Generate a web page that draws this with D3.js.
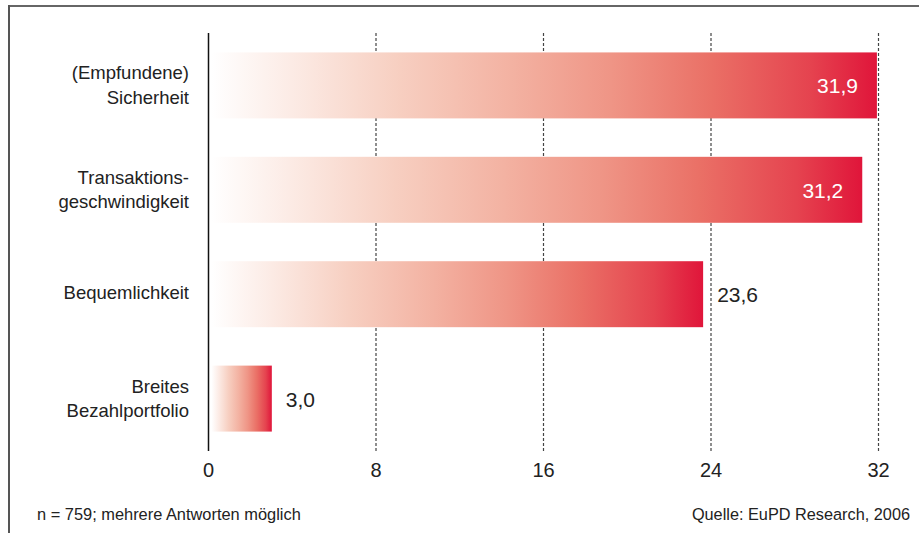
<!DOCTYPE html>
<html><head><meta charset="utf-8">
<script src="https://cdn.jsdelivr.net/npm/d3@7"></script>
<style>
html,body{margin:0;padding:0;background:#fff;}
svg{display:block;}
</style></head>
<body>
<svg id="chart" width="919" height="533"></svg>
<script>
const categories = [["(Empfundene)", "Sicherheit"], ["Transaktions-", "geschwindigkeit"], ["Bequemlichkeit"], ["Breites", "Bezahlportfolio"]];
const values = [31.9, 31.2, 23.6, 3.0];
const valueLabels = ["31,9", "31,2", "23,6", "3,0"];
const tickValues = [0, 8, 16, 24, 32];
const footLeft = "n = 759; mehrere Antworten möglich";
const footRight = "Quelle: EuPD Research, 2006";

const svg = d3.select("#chart");
const font = "'Liberation Sans', Arial, sans-serif";

// frame
svg.append("line").attr("x1", 9).attr("x2", 919).attr("y1", 6).attr("y2", 6)
  .attr("stroke", "#666").attr("stroke-width", 2);
svg.append("line").attr("x1", 9).attr("x2", 9).attr("y1", 5).attr("y2", 533)
  .attr("stroke", "#555").attr("stroke-width", 2);

const x = d3.scaleLinear().domain([0, 32]).range([208, 878]);
const y = d3.scaleBand().domain(d3.range(categories.length)).range([33, 451]).paddingInner(0.368).paddingOuter(0.186);

// gradient
const defs = svg.append("defs");
const grad = defs.append("linearGradient").attr("id", "barGrad")
  .attr("x1", "0%").attr("x2", "100%").attr("y1", "0%").attr("y2", "0%");
[[0, "#ffffff"], [0.12, "#fcebe5"], [0.28, "#f7cfc1"], [0.45, "#f3b2a2"], [0.6, "#ef9586"],
 [0.75, "#ea7066"], [0.9, "#e5434f"], [1, "#e0153a"]].forEach(s =>
  grad.append("stop").attr("offset", s[0]).attr("stop-color", s[1]));

// gridlines
svg.append("g").selectAll("line").data(tickValues.filter(t => t > 0)).join("line")
  .attr("x1", d => x(d) + 0.5).attr("x2", d => x(d) + 0.5)
  .attr("y1", 33).attr("y2", 451)
  .attr("stroke", "#444").attr("stroke-width", 1.2).attr("stroke-dasharray", "3,2");

// bars
svg.append("g").selectAll("rect").data(values).join("rect")
  .attr("x", x(0) + 3.5)
  .attr("y", (d, i) => y(i))
  .attr("width", d => x(d) + 1 - (x(0) + 3.5))
  .attr("height", y.bandwidth())
  .attr("fill", "url(#barGrad)");

// zero axis
svg.append("line").attr("x1", x(0) + 0.5).attr("x2", x(0) + 0.5).attr("y1", 33).attr("y2", 451)
  .attr("stroke", "#111").attr("stroke-width", 1.5);

// tick labels
svg.append("g").selectAll("text").data(tickValues).join("text")
  .attr("x", d => x(d) + 0.5).attr("y", 477)
  .attr("text-anchor", "middle").attr("font-family", font).attr("font-size", 20)
  .attr("fill", "#222").text(d => d);

// category labels
const catG = svg.append("g");
categories.forEach((lines, i) => {
  const c = y(i) + y.bandwidth() / 2;
  const t = catG.append("text").attr("text-anchor", "end").attr("font-family", font)
    .attr("font-size", 18.5).attr("fill", "#222");
  if (lines.length === 1) {
    t.append("tspan").attr("x", 189).attr("y", c + 5).text(lines[0]);
  } else {
    lines.forEach((l, j) => t.append("tspan").attr("x", 189).attr("y", c - 6 + j * 24.5).text(l));
  }
});

// value labels
svg.append("g").selectAll("text").data(values).join("text")
  .attr("x", (d, i) => d > 28 ? x(d) - 18 : x(d) + 15)
  .attr("y", (d, i) => y(i) + y.bandwidth() / 2 + 8)
  .attr("text-anchor", d => d > 28 ? "end" : "start")
  .attr("font-family", font).attr("font-size", 21)
  .attr("fill", d => d > 28 ? "#fff" : "#222")
  .text((d, i) => valueLabels[i]);

// footer
svg.append("text").attr("x", 37).attr("y", 520).attr("font-family", font).attr("font-size", 16.4)
  .attr("fill", "#222").text(footLeft);
svg.append("text").attr("x", 910).attr("y", 520).attr("text-anchor", "end").attr("font-family", font)
  .attr("font-size", 16.3).attr("fill", "#222").text(footRight);
</script>
</body></html>
